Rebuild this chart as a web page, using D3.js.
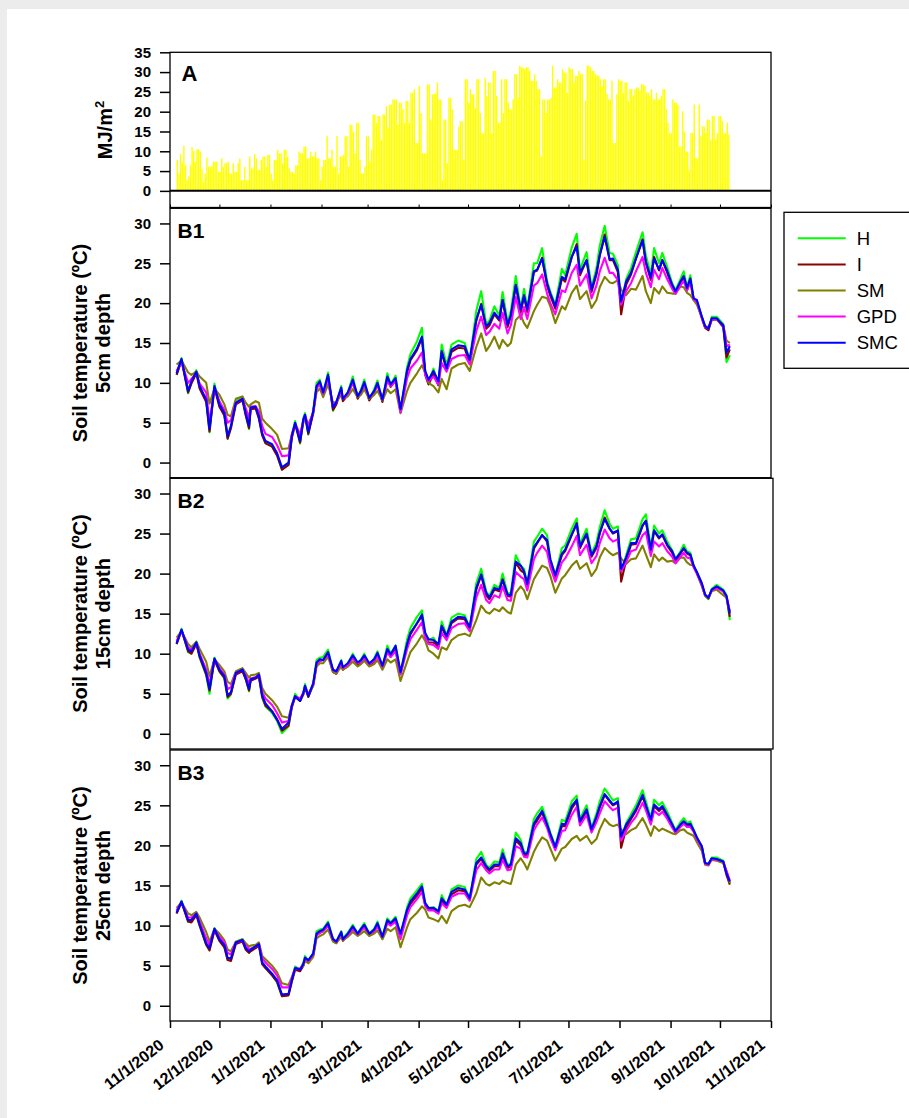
<html>

<head>
    <meta charset="utf-8">
    <title>Solar radiation and soil temperature</title>
    <script src="https://d3js.org/d3.v7.min.js"></script>
    <style>
        body { margin: 0; background: #ececec; }
        svg text { font-family: Arial, "Liberation Sans", sans-serif; fill: #000; }
    </style>
</head>

<body>
    <svg width="909" height="1118"></svg>

    <script>

        // x axis tick labels (first and last also give the axis range)
        const monthTicks = ["11/1/2020", "12/1/2020", "1/1/2021", "2/1/2021", "3/1/2021", "4/1/2021",
            "5/1/2021", "6/1/2021", "7/1/2021", "8/1/2021", "9/1/2021", "10/1/2021", "11/1/2021"];
        const radTicks = [0, 5, 10, 15, 20, 25, 30, 35];
        const tempTicks = [0, 5, 10, 15, 20, 25, 30];

        const treatments = ["H", "I", "SM", "GPD", "SMC"];
        const treatmentColors = ["#00ff00", "#8b0000", "#808000", "#ff00ff", "#0000ff"];

        // daily solar radiation (MJ/m2), first bar on day 4 after 11/1/2020
        const radStartDay = 4;
        const radiation = [
            7.8, 4.4, 9.3, 7.2, 11.4, 6.5, 2.7, 3.7, 6.5, 11.1, 10.1, 7.3, 10.5, 10.5, 9.9, 5.6, 2.3, 4.4, 8.4,
            6.1, 6.1, 6.2, 7.4, 7.4, 7.4, 4.8, 4.8, 8.2, 6.1,
            7.0, 7.0, 7.4, 4.4, 4.4, 7.0, 4.8, 4.8, 7.0, 8.2,
            2.7, 2.7, 6.1, 2.7, 2.7, 8.7, 5.7, 5.7, 9.3, 8.2,
            5.3, 5.3, 7.8, 8.7, 8.7, 6.1, 9.1, 9.1, 4.4, 2.7,
            7.8, 7.8, 10.4, 9.5, 9.5, 7.0, 10.4, 10.4, 8.7, 5.7,
            4.8, 4.8, 4.4, 6.5, 6.5, 9.9, 9.5, 9.5, 11.2, 11.2,
            8.2, 8.2, 9.9, 8.7, 8.7, 9.9, 8.2, 8.2, 2.7, 6.1,
            7.8, 7.8, 13.8, 8.2, 8.2, 10.4, 6.1, 6.1, 13.8, 4.4,
            8.7, 8.7, 9.1, 13.8, 13.8, 6.1, 16.7, 16.7, 15.0, 9.5,
            17.2, 17.2, 7.8, 4.4, 4.4, 6.1, 13.8, 13.8, 7.4, 10.4,
            19.3, 19.3, 17.2, 18.9, 18.9, 12.9, 19.3, 19.3, 21.4, 15.9,
            21.8, 21.8, 23.1, 23.1, 23.1, 16.7, 22.3, 22.3, 20.6, 17.2,
            22.7, 22.7, 17.2, 24.8, 24.8, 25.7, 12.1, 12.1, 26.5, 19.7,
            9.5, 9.5, 9.5, 26.9, 26.9, 18.0, 24.4, 24.4, 24.8, 27.4,
            23.1, 23.1, 2.7, 18.0, 18.0, 7.0, 23.5, 23.5, 20.6, 10.4,
            10.4, 10.4, 16.3, 17.6, 17.6, 7.8, 28.2, 28.2, 22.3, 25.7,
            24.4, 24.4, 21.0, 28.2, 28.2, 19.7, 14.6, 14.6, 28.6, 24.0,
            27.4, 27.4, 14.6, 30.3, 30.3, 24.0, 17.2, 17.2, 28.2, 19.7,
            28.2, 28.2, 22.3, 20.6, 20.6, 23.1, 29.5, 29.5, 23.5, 31.6,
            31.2, 31.2, 30.8, 31.2, 31.2, 30.3, 27.8, 27.8, 29.5, 27.8,
            25.7, 25.7, 8.7, 23.1, 23.1, 19.7, 23.1, 23.1, 23.5, 31.6,
            26.1, 26.1, 28.2, 27.4, 27.4, 30.8, 29.9, 29.9, 24.8, 31.2,
            30.8, 30.8, 27.4, 29.1, 29.1, 30.3, 29.5, 29.5, 7.8, 22.7,
            31.6, 31.6, 31.2, 30.3, 30.3, 29.5, 29.1, 29.1, 28.2, 26.5,
            28.2, 28.2, 24.4, 23.1, 23.1, 27.8, 12.1, 12.1, 24.4, 28.2,
            27.8, 27.8, 24.8, 27.4, 27.4, 22.7, 25.7, 25.7, 24.0, 25.7,
            26.1, 26.1, 25.2, 26.9, 26.9, 26.5, 24.8, 24.8, 24.0, 25.7,
            23.1, 23.1, 24.8, 23.1, 23.1, 24.0, 25.7, 25.7, 20.6, 17.2,
            14.6, 14.6, 23.1, 22.3, 22.3, 21.8, 11.2, 11.2, 20.1, 15.0,
            9.9, 9.9, 5.3, 14.6, 14.6, 21.8, 8.2, 8.2, 21.8, 13.8,
            16.3, 16.3, 14.6, 18.0, 18.0, 12.9, 18.9, 18.9, 12.9, 14.6,
            18.9, 18.9, 17.6, 14.6, 14.6, 17.2, 14.2
        ];

        // soil temperature sampling days (days after 11/1/2020)
        const dayOffsets = [
            4, 7, 11, 13, 16, 18, 22, 24, 27, 30,
            33, 35, 37, 40, 44, 46, 48, 49, 52, 54,
            56, 58, 62, 65, 68, 72, 74, 76, 79, 81,
            82, 84, 87, 89, 91, 93, 96, 99, 101, 104,
            105, 108, 111, 114, 116, 118, 121, 124, 126, 129,
            132, 134, 137, 140, 144, 146, 150, 153, 155, 157,
            160, 163, 165, 168, 171, 175, 179, 182, 186, 189,
            192, 194, 197, 200, 202, 205, 207, 210, 213, 215,
            217, 221, 223, 226, 229, 231, 234, 238, 240, 244,
            247, 249, 253, 256, 259, 261, 264, 267, 269, 272,
            274, 277, 280, 283, 287, 289, 292, 294, 297, 299,
            302, 305, 307, 310, 312, 314, 316, 318, 320, 323,
            325, 327, 329, 332, 336, 338, 340
        ];

        // 5 cm depth
        const b1H = [
            11.0, 13.1, 8.7, 10.1, 11.6, 9.4, 7.8, 3.8, 9.9, 7.1,
            6.0, 3.0, 4.4, 7.7, 8.2, 6.0, 4.2, 7.0, 7.0, 5.6,
            3.5, 2.5, 2.0, 1.0, -0.9, -0.2, 3.5, 5.2, 2.4, 5.6,
            6.2, 3.5, 6.6, 10.0, 10.4, 8.6, 11.3, 6.5, 7.4, 9.6,
            7.8, 8.8, 10.8, 8.1, 9.2, 10.4, 7.9, 9.2, 10.3, 7.7,
            11.2, 9.8, 10.9, 6.4, 12.0, 13.6, 15.2, 16.9, 11.4, 10.0,
            11.8, 9.8, 14.8, 12.2, 14.8, 15.3, 15.0, 12.8, 19.0, 21.5,
            17.4, 17.8, 19.6, 18.4, 21.4, 17.6, 19.0, 23.4, 19.3, 21.8,
            19.4, 25.0, 25.0, 26.9, 22.8, 21.4, 19.8, 24.3, 23.5, 27.0,
            28.7, 24.2, 26.4, 22.0, 24.4, 27.2, 29.7, 26.3, 26.2, 24.8,
            19.8, 23.0, 24.4, 26.4, 28.9, 26.0, 23.6, 26.9, 25.0, 26.3,
            24.5, 22.5, 21.6, 23.0, 24.0, 22.0, 23.5, 20.5, 20.2, 18.3,
            17.0, 16.6, 18.3, 18.3, 17.4, 12.6, 13.5
        ];
        const b1I = [
            11.0, 12.8, 8.8, 9.9, 11.2, 9.3, 7.6, 3.9, 9.4, 7.0,
            5.9, 3.0, 4.3, 7.3, 7.8, 5.9, 4.3, 6.7, 6.8, 5.5,
            3.4, 2.4, 2.0, 0.9, -0.9, -0.3, 3.1, 4.8, 2.5, 5.2,
            5.8, 3.6, 6.2, 9.4, 10.0, 8.5, 10.8, 6.6, 7.3, 9.1,
            7.7, 8.5, 10.1, 8.0, 8.8, 9.8, 7.8, 8.8, 9.8, 7.6,
            10.6, 9.5, 10.3, 6.4, 11.3, 12.8, 14.1, 15.6, 11.0, 9.8,
            11.1, 9.7, 13.8, 11.6, 13.9, 14.4, 14.3, 12.5, 17.8, 19.9,
            16.8, 17.2, 18.6, 17.8, 20.4, 17.0, 18.3, 22.2, 18.8, 20.8,
            18.9, 23.9, 24.1, 25.7, 22.2, 20.9, 19.3, 23.1, 22.7, 25.8,
            27.4, 23.5, 25.4, 21.4, 23.6, 26.0, 28.6, 25.4, 25.4, 23.9,
            18.6, 22.3, 23.6, 25.6, 28.0, 25.0, 22.9, 25.8, 24.1, 25.4,
            23.8, 22.0, 21.2, 22.6, 23.3, 21.6, 23.0, 20.4, 20.1, 18.1,
            16.9, 16.6, 17.9, 18.0, 17.0, 13.2, 14.2
        ];
        const b1SM = [
            12.3, 12.8, 11.3, 11.0, 11.4, 10.8, 10.0, 7.4, 9.3, 8.5,
            7.3, 6.0, 5.8, 8.0, 8.3, 7.5, 7.0, 7.3, 7.7, 7.5,
            5.5, 5.0, 4.2, 3.5, 1.7, 1.8, 3.5, 4.8, 3.6, 5.0,
            5.8, 4.8, 6.2, 8.8, 9.3, 8.2, 9.8, 7.5, 7.6, 8.5,
            8.0, 8.3, 9.2, 8.2, 8.5, 9.2, 8.0, 8.5, 9.0, 7.8,
            9.2, 8.7, 9.2, 6.2, 9.0, 10.0, 11.2, 12.2, 11.3, 10.0,
            9.6, 8.8, 10.5, 9.2, 11.8, 12.3, 12.5, 11.5, 14.5, 16.2,
            14.0, 14.6, 15.8, 14.3, 15.4, 14.6, 15.0, 17.9, 18.5, 17.5,
            16.9, 19.0, 19.8, 20.8, 20.6, 19.6, 17.5, 19.6, 19.2, 21.3,
            22.2, 20.5, 21.5, 19.4, 20.4, 22.0, 23.3, 22.6, 22.5, 22.9,
            21.7, 21.0, 21.8, 21.7, 23.4, 21.5, 20.0, 21.9, 21.2, 22.1,
            21.3, 21.2, 21.2, 22.1, 22.0, 21.3, 21.0, 20.4, 19.8, 18.2,
            17.1, 17.0, 18.0, 17.9, 17.3, 15.3, 15.0
        ];
        const b1GPD = [
            11.5, 12.6, 10.0, 10.5, 11.2, 9.9, 8.8, 5.0, 9.3, 7.7,
            6.6, 5.0, 5.3, 7.5, 8.0, 6.8, 5.6, 7.0, 7.1, 6.4,
            4.6, 3.6, 3.2, 2.2, 0.8, 0.9, 3.5, 4.9, 3.4, 5.4,
            6.0, 4.5, 6.4, 9.3, 9.8, 8.6, 10.6, 7.0, 7.6, 9.1,
            8.0, 8.6, 10.0, 8.4, 8.9, 9.8, 8.2, 8.9, 9.7, 8.0,
            10.2, 9.6, 10.2, 6.3, 10.6, 11.8, 12.8, 13.8, 11.0, 10.2,
            10.8, 9.8, 12.5, 11.4, 13.0, 13.4, 13.5, 12.3, 16.5, 18.3,
            16.0, 16.4, 17.4, 16.8, 18.8, 16.2, 17.2, 20.8, 18.0, 19.5,
            18.0, 22.2, 22.5, 23.6, 21.2, 20.0, 18.6, 21.6, 21.4, 23.8,
            24.8, 22.2, 23.6, 20.6, 22.2, 24.0, 25.7, 23.8, 23.8, 22.9,
            19.8, 21.5, 22.5, 24.0, 25.8, 23.8, 22.0, 24.2, 23.0, 24.4,
            23.0, 21.8, 21.2, 22.2, 22.8, 21.6, 22.6, 20.5, 20.2, 18.2,
            17.0, 16.8, 18.0, 18.0, 17.2, 14.6, 14.8
        ];
        const b1SMC = [
            11.2, 13.0, 9.0, 10.2, 11.4, 9.6, 7.9, 4.2, 9.6, 7.3,
            6.2, 3.3, 4.6, 7.5, 8.0, 6.2, 4.6, 6.9, 7.0, 5.8,
            3.7, 2.7, 2.3, 1.2, -0.6, 0.0, 3.3, 5.0, 2.7, 5.4,
            6.0, 3.8, 6.4, 9.6, 10.2, 8.8, 11.0, 6.9, 7.6, 9.4,
            8.0, 8.8, 10.4, 8.3, 9.0, 10.1, 8.1, 9.0, 10.0, 7.9,
            10.8, 9.8, 10.6, 6.7, 11.6, 13.0, 14.3, 15.8, 11.5, 10.4,
            11.5, 10.2, 14.0, 11.8, 14.2, 14.7, 14.6, 12.9, 17.9, 19.8,
            17.1, 17.5, 18.8, 18.0, 20.4, 17.3, 18.5, 22.3, 19.2, 21.0,
            19.2, 24.0, 24.2, 25.6, 22.5, 21.2, 19.6, 23.3, 23.0, 25.8,
            27.1, 23.8, 25.4, 21.7, 23.8, 26.0, 28.3, 25.5, 25.6, 24.2,
            20.2, 22.7, 23.8, 25.6, 27.9, 25.2, 23.2, 25.6, 24.2, 25.4,
            24.0, 22.3, 21.5, 22.7, 23.4, 21.9, 23.1, 20.6, 20.4, 18.3,
            17.1, 16.8, 18.1, 18.1, 17.2, 13.8, 14.6
        ];

        // 15 cm depth
        const b2H = [
            11.2, 13.1, 10.2, 10.0, 11.5, 9.5, 7.3, 5.0, 9.5, 7.8,
            6.9, 4.4, 4.9, 7.7, 8.1, 6.8, 5.3, 6.9, 7.0, 7.2,
            4.5, 3.4, 2.6, 1.6, 0.1, 0.9, 3.5, 5.0, 4.1, 5.2,
            6.2, 4.6, 6.4, 9.2, 9.5, 9.6, 10.5, 7.8, 7.6, 9.2,
            8.2, 8.8, 10.0, 8.8, 9.3, 10.0, 8.6, 9.4, 10.3, 8.3,
            11.0, 10.0, 11.0, 7.6, 11.8, 13.2, 14.6, 15.4, 12.5, 11.7,
            12.0, 11.0, 14.0, 12.3, 14.5, 15.0, 14.8, 13.2, 18.8, 20.6,
            17.8, 17.2, 18.6, 18.2, 20.0, 17.5, 17.6, 22.3, 21.0, 20.6,
            18.8, 24.0, 24.6, 25.6, 24.8, 21.8, 19.8, 23.2, 23.5, 25.6,
            26.9, 23.7, 25.6, 22.5, 23.9, 25.8, 27.9, 26.2, 25.6, 25.9,
            20.2, 22.3, 24.3, 24.4, 26.8, 27.4, 23.3, 26.0, 25.0, 25.4,
            24.0, 22.9, 21.8, 22.8, 23.6, 22.8, 22.6, 21.0, 20.1, 18.6,
            17.2, 16.8, 18.1, 18.6, 18.0, 17.3, 14.2
        ];
        const b2I = [
            11.2, 12.9, 10.3, 10.0, 11.2, 9.6, 7.4, 5.4, 9.2, 7.8,
            7.0, 4.6, 5.0, 7.4, 7.8, 6.8, 5.4, 6.6, 6.9, 7.1,
            4.6, 3.5, 2.8, 1.8, 0.4, 1.0, 3.3, 4.6, 4.1, 4.9,
            5.8, 4.6, 6.1, 8.6, 9.1, 9.2, 10.0, 7.7, 7.5, 8.8,
            8.0, 8.5, 9.5, 8.6, 8.9, 9.5, 8.5, 9.0, 9.8, 8.2,
            10.4, 9.6, 10.5, 7.5, 11.1, 12.4, 13.8, 14.7, 12.0, 11.4,
            11.4, 10.9, 13.3, 12.0, 13.8, 14.4, 14.3, 13.0, 18.0, 19.8,
            17.3, 16.8, 18.0, 17.8, 19.3, 17.2, 17.1, 21.4, 20.4, 20.1,
            18.5, 23.1, 23.8, 24.8, 24.0, 21.4, 19.6, 22.3, 22.8, 24.8,
            26.3, 23.2, 24.9, 22.1, 23.2, 25.0, 27.0, 25.6, 25.0, 25.3,
            19.0, 21.6, 23.6, 23.7, 26.0, 26.6, 22.7, 25.3, 24.4, 24.8,
            23.5, 22.6, 21.5, 22.5, 23.1, 22.5, 22.3, 20.9, 20.1, 18.7,
            17.3, 16.9, 17.9, 18.3, 17.8, 17.0, 14.6
        ];
        const b2SM = [
            12.0, 12.8, 11.2, 10.8, 11.5, 10.6, 9.0, 7.2, 9.3, 8.6,
            7.8, 6.5, 6.2, 7.8, 8.2, 7.6, 7.0, 7.3, 7.4, 7.6,
            5.7, 5.0, 4.2, 3.4, 2.2, 2.0, 3.6, 4.6, 4.4, 5.0,
            5.8, 4.9, 6.0, 8.4, 8.8, 8.8, 9.6, 7.7, 7.5, 8.4,
            8.0, 8.4, 9.0, 8.4, 8.7, 9.1, 8.4, 8.7, 9.2, 8.0,
            9.3, 8.9, 9.3, 6.6, 9.0, 10.2, 11.3, 12.3, 11.6, 10.4,
            10.0, 9.4, 10.8, 10.5, 11.7, 12.3, 12.5, 12.2, 14.2, 16.0,
            15.2, 15.0, 15.6, 15.3, 15.8, 15.2, 15.0, 17.6, 18.4, 17.9,
            16.8, 19.3, 20.0, 21.0, 20.7, 19.7, 17.6, 19.4, 19.8, 21.0,
            21.6, 20.6, 21.3, 19.7, 20.6, 22.0, 23.2, 22.6, 22.3, 22.6,
            21.9, 21.2, 21.8, 21.9, 23.5, 22.4, 20.8, 22.4, 21.6, 22.0,
            21.5, 21.6, 21.3, 22.0, 22.0, 21.4, 21.1, 21.0, 20.0, 18.4,
            17.2, 17.0, 17.8, 18.0, 17.3, 17.0, 15.2
        ];
        const b2GPD = [
            11.6, 12.8, 10.8, 10.5, 11.3, 10.0, 8.0, 6.2, 9.3, 8.2,
            7.4, 5.6, 5.8, 7.6, 8.0, 7.3, 6.3, 6.9, 7.1, 7.3,
            5.2, 4.4, 3.6, 2.6, 1.4, 1.6, 3.5, 4.7, 4.4, 5.1,
            5.9, 4.9, 6.2, 8.7, 9.1, 9.2, 9.9, 8.0, 7.7, 8.9,
            8.2, 8.6, 9.5, 8.8, 9.0, 9.5, 8.7, 9.1, 9.7, 8.4,
            10.2, 9.6, 10.3, 7.4, 10.6, 11.8, 13.0, 13.9, 12.0, 11.2,
            11.1, 10.6, 12.6, 11.7, 13.2, 13.7, 13.8, 12.8, 17.0, 18.6,
            16.7, 16.3, 17.3, 17.0, 18.4, 16.7, 16.6, 20.2, 19.6, 19.3,
            17.9, 21.8, 22.6, 23.5, 22.7, 20.8, 19.0, 21.4, 21.9, 23.4,
            24.7, 22.3, 23.6, 21.3, 22.2, 23.8, 25.5, 24.4, 24.0, 24.3,
            20.3, 21.4, 22.8, 23.0, 24.8, 25.2, 22.2, 24.0, 23.4, 23.8,
            22.8, 22.1, 21.3, 22.1, 22.6, 22.0, 21.9, 20.8, 20.0, 18.6,
            17.3, 17.0, 17.9, 18.2, 17.8, 17.1, 15.3
        ];
        const b2SMC = [
            11.3, 13.0, 10.5, 10.3, 11.4, 9.8, 7.6, 5.6, 9.4, 8.0,
            7.2, 4.8, 5.2, 7.6, 8.0, 7.0, 5.6, 6.8, 7.0, 7.4,
            4.8, 3.8, 2.8, 1.8, 0.6, 1.4, 3.5, 4.7, 4.1, 5.1,
            6.0, 4.7, 6.3, 8.9, 9.3, 9.2, 10.2, 8.0, 7.8, 9.1,
            8.3, 8.8, 9.8, 8.9, 9.2, 9.8, 8.8, 9.3, 10.1, 8.5,
            10.6, 9.9, 11.0, 7.7, 11.2, 12.6, 13.8, 14.9, 12.6, 11.8,
            11.7, 11.2, 13.5, 12.2, 14.0, 14.6, 14.5, 13.3, 18.2, 19.9,
            17.6, 17.0, 18.2, 18.0, 19.2, 17.4, 17.3, 21.5, 21.0, 20.3,
            18.7, 23.3, 23.9, 24.8, 24.2, 21.8, 19.8, 22.5, 23.0, 24.9,
            26.2, 23.4, 25.0, 22.3, 23.4, 25.1, 26.8, 25.6, 25.1, 25.4,
            20.6, 22.0, 23.8, 23.8, 26.0, 26.6, 23.0, 25.4, 24.5, 24.9,
            23.6, 22.8, 21.8, 22.6, 23.2, 22.6, 22.4, 21.0, 20.2, 18.8,
            17.4, 17.0, 18.0, 18.4, 17.9, 17.2, 15.0
        ];

        // 25 cm depth
        const b3H = [
            11.6, 13.1, 10.5, 10.5, 11.6, 10.0, 7.6, 7.0, 9.7, 8.2,
            7.4, 5.7, 5.7, 8.0, 8.3, 7.1, 6.6, 7.1, 7.4, 7.7,
            5.2, 4.7, 3.8, 2.9, 1.2, 1.4, 3.3, 4.9, 4.5, 5.4,
            6.2, 5.6, 6.6, 9.3, 9.5, 9.6, 10.5, 8.3, 8.0, 9.3,
            8.4, 9.1, 10.1, 9.0, 9.7, 10.3, 9.0, 9.6, 10.5, 8.6,
            10.9, 10.4, 11.1, 8.8, 12.3, 13.4, 14.4, 15.2, 12.8, 12.2,
            12.3, 11.8, 13.8, 12.6, 14.5, 15.0, 14.8, 13.4, 18.3, 19.2,
            17.6, 17.2, 18.0, 17.9, 19.5, 17.5, 17.8, 21.6, 20.7, 19.2,
            19.1, 23.3, 24.0, 24.8, 23.0, 21.6, 19.9, 23.2, 23.0, 25.5,
            26.2, 23.3, 25.0, 22.2, 24.0, 25.5, 27.1, 26.2, 25.6, 25.9,
            20.8, 22.8, 23.9, 25.0, 26.9, 25.5, 23.4, 25.7, 25.0, 25.4,
            24.2, 22.8, 21.9, 22.9, 23.4, 22.8, 23.0, 22.0, 21.0, 19.9,
            17.8, 17.6, 18.5, 18.5, 18.1, 16.6, 15.3
        ];
        const b3I = [
            11.5, 12.9, 10.5, 10.4, 11.3, 10.0, 7.6, 6.9, 9.4, 8.1,
            7.3, 5.7, 5.6, 7.7, 8.0, 7.0, 6.6, 6.8, 7.2, 7.5,
            5.2, 4.7, 3.8, 3.0, 1.2, 1.3, 3.0, 4.5, 4.3, 5.0,
            5.8, 5.5, 6.3, 8.8, 9.1, 9.3, 10.0, 8.1, 7.8, 9.0,
            8.1, 8.8, 9.6, 8.8, 9.4, 9.8, 8.8, 9.3, 10.0, 8.4,
            10.5, 10.1, 10.6, 8.8, 11.7, 12.7, 13.7, 14.6, 12.5, 12.0,
            12.0, 11.6, 13.1, 12.4, 13.9, 14.4, 14.3, 13.2, 17.6, 18.3,
            17.2, 16.8, 17.4, 17.4, 18.7, 17.2, 17.3, 20.6, 20.0, 18.8,
            18.8, 22.5, 23.1, 24.1, 22.5, 21.2, 19.6, 22.4, 22.4, 24.6,
            25.5, 22.8, 24.3, 21.8, 23.4, 24.7, 26.3, 25.5, 25.0, 25.3,
            19.7, 22.1, 23.3, 24.3, 26.1, 24.9, 22.8, 24.9, 24.3, 24.7,
            23.6, 22.4, 21.6, 22.4, 22.8, 22.4, 22.5, 21.8, 20.9, 19.8,
            17.7, 17.6, 18.3, 18.2, 17.9, 16.3, 15.1
        ];
        const b3SM = [
            12.2, 12.9, 11.5, 11.3, 11.7, 11.0, 9.2, 8.0, 9.6, 9.0,
            8.2, 7.0, 6.8, 8.0, 8.3, 7.8, 7.4, 7.5, 7.6, 7.9,
            6.2, 5.8, 5.0, 4.2, 2.8, 2.6, 3.6, 4.6, 4.6, 5.0,
            5.6, 5.3, 6.1, 8.4, 8.7, 8.9, 9.5, 8.0, 7.8, 8.6,
            8.2, 8.6, 9.2, 8.7, 9.0, 9.3, 8.7, 9.0, 9.4, 8.3,
            9.6, 9.3, 9.8, 7.3, 9.8, 10.8, 11.6, 12.4, 12.0, 11.0,
            10.8, 10.5, 11.2, 10.3, 11.8, 12.4, 12.6, 12.3, 14.0, 16.0,
            15.2, 15.0, 15.4, 15.2, 15.6, 15.3, 15.2, 17.6, 18.4, 17.8,
            17.0, 19.2, 20.0, 21.0, 20.6, 19.6, 18.1, 19.6, 19.8, 20.8,
            21.2, 20.6, 21.2, 20.2, 20.8, 22.0, 23.3, 22.6, 22.4, 22.6,
            22.0, 21.4, 21.9, 22.2, 23.4, 22.6, 21.2, 22.4, 21.8, 22.1,
            21.8, 21.5, 21.4, 21.9, 22.0, 21.6, 21.4, 21.2, 20.4, 19.3,
            17.6, 17.5, 18.2, 18.1, 17.8, 16.8, 15.3
        ];
        const b3GPD = [
            11.9, 12.9, 11.0, 11.0, 11.5, 10.5, 8.4, 7.6, 9.5, 8.6,
            7.9, 6.6, 6.4, 7.9, 8.1, 7.5, 7.1, 7.1, 7.4, 7.7,
            5.9, 5.4, 4.6, 3.8, 2.3, 2.3, 3.4, 4.7, 4.6, 5.2,
            5.9, 5.6, 6.4, 8.8, 9.1, 9.3, 10.0, 8.3, 8.0, 9.0,
            8.3, 8.8, 9.6, 8.9, 9.4, 9.8, 9.0, 9.3, 9.9, 8.6,
            10.3, 10.0, 10.5, 8.3, 11.3, 12.3, 13.3, 14.2, 12.5, 11.9,
            11.9, 11.5, 12.8, 12.2, 13.6, 14.0, 14.0, 13.1, 16.9, 17.8,
            16.9, 16.5, 17.0, 17.0, 18.2, 16.9, 17.0, 19.9, 19.6, 18.6,
            18.5, 21.9, 22.6, 23.5, 22.2, 20.9, 19.4, 21.8, 21.9, 23.8,
            24.8, 22.5, 23.8, 21.6, 22.9, 24.0, 25.5, 24.8, 24.4, 24.7,
            20.6, 21.8, 22.8, 23.6, 25.3, 24.4, 22.6, 24.3, 23.8, 24.2,
            23.3, 22.2, 21.6, 22.3, 22.7, 22.3, 22.3, 21.7, 20.8, 19.7,
            17.7, 17.6, 18.3, 18.2, 18.0, 16.8, 15.6
        ];
        const b3SMC = [
            11.6, 13.0, 10.7, 10.7, 11.5, 10.2, 7.8, 7.2, 9.6, 8.3,
            7.6, 6.0, 5.9, 7.9, 8.2, 7.2, 6.8, 7.0, 7.4, 7.7,
            5.4, 4.9, 4.0, 3.2, 1.4, 1.5, 3.2, 4.7, 4.5, 5.2,
            6.0, 5.7, 6.5, 9.0, 9.3, 9.5, 10.3, 8.3, 8.0, 9.2,
            8.3, 9.0, 9.9, 9.0, 9.6, 10.1, 9.0, 9.5, 10.3, 8.6,
            10.7, 10.3, 10.9, 9.0, 12.0, 13.0, 14.0, 14.9, 12.8, 12.2,
            12.2, 11.8, 13.4, 12.6, 14.2, 14.7, 14.5, 13.4, 17.8, 18.5,
            17.4, 17.0, 17.6, 17.6, 19.0, 17.4, 17.6, 20.9, 20.3, 19.0,
            19.0, 22.7, 23.4, 24.3, 22.6, 21.4, 19.8, 22.7, 22.6, 24.9,
            25.7, 23.0, 24.5, 22.0, 23.6, 24.9, 26.4, 25.6, 25.1, 25.5,
            21.1, 22.6, 23.5, 24.5, 26.3, 25.0, 23.2, 25.1, 24.5, 24.9,
            23.8, 22.6, 21.8, 22.6, 23.0, 22.6, 22.7, 21.9, 21.0, 19.9,
            17.8, 17.7, 18.4, 18.3, 18.0, 16.5, 15.5
        ];

        const svg = d3.select('svg');
        const boldFont = 'bold 15px Arial, "Liberation Sans", sans-serif';

        // white page
        svg.append('rect')
            .attr('x', 7).attr('y', 9)
            .attr('width', 902).attr('height', 1109)
            .attr('fill', '#fff');

        const parseDate = d3.utcParse('%m/%d/%Y');
        const months = monthTicks.map(parseDate);
        const startDate = months[0];
        const dayDate = d => d3.utcDay.offset(startDate, d);

        const x = d3.scaleUtc()
            .domain([startDate, months[months.length - 1]])
            .range([170, 771]);

        // ---- panel A : solar radiation ----
        const yA = d3.scaleLinear().domain([-4.2, 35]).range([207.5, 52.3]);

        svg.append('g').selectAll('rect')
            .data(radiation)
            .join('rect')
            .attr('x', (v, i) => x(dayDate(radStartDay + i)))
            .attr('width', (v, i) => x(dayDate(radStartDay + i + 1)) - x(dayDate(radStartDay + i)) - 0.25)
            .attr('y', v => yA(v))
            .attr('height', v => yA(0) - yA(v))
            .attr('fill', '#ffff00');

        svg.append('line')
            .attr('x1', 170).attr('x2', 771)
            .attr('y1', yA(0)).attr('y2', yA(0))
            .attr('stroke', '#000').attr('stroke-width', 2);

        svg.append('rect')
            .attr('x', 170).attr('y', 52.3)
            .attr('width', 601).attr('height', 207.5 - 52.3)
            .attr('fill', 'none').attr('stroke', '#000').attr('stroke-width', 1.3);

        const axA = svg.append('g')
            .attr('transform', 'translate(170,0)')
            .call(d3.axisLeft(yA).tickValues(radTicks).tickSize(10).tickPadding(9));
        axA.select('.domain').remove();
        axA.selectAll('line').attr('stroke-width', 1.5);
        axA.selectAll('text').style('font', boldFont);

        const axAbottom = svg.append('g')
            .attr('transform', 'translate(0,207.5)')
            .call(d3.axisTop(x).tickValues(months).tickSize(3).tickFormat(''));
        axAbottom.select('.domain').remove();

        svg.append('text')
            .attr('x', 181.5).attr('y', 81)
            .style('font', 'bold 22px Arial, "Liberation Sans", sans-serif')
            .text('A');

        const titleA = svg.append('text')
            .attr('transform', 'translate(112.3,130) rotate(-90)')
            .attr('text-anchor', 'middle')
            .style('font', 'bold 20px Arial, "Liberation Sans", sans-serif');
        titleA.append('tspan').text('MJ/m');
        titleA.append('tspan').attr('dy', -8).attr('font-size', 13).text('2');

        // ---- panels B1-B3 : soil temperature ----
        const tempPanels = [
            { label: 'B1', depth: '5cm depth', top: 208.3, bottom: 477.7, right: 771, series: [b1H, b1I, b1SM, b1GPD, b1SMC] },
            { label: 'B2', depth: '15cm depth', top: 478.3, bottom: 749, right: 773, series: [b2H, b2I, b2SM, b2GPD, b2SMC] },
            { label: 'B3', depth: '25cm depth', top: 750, bottom: 1021, right: 771, series: [b3H, b3I, b3SM, b3GPD, b3SMC] }
        ];

        tempPanels.forEach(p => {
            const y = d3.scaleLinear().domain([-1.9, 31.9]).range([p.bottom, p.top]);
            const g = svg.append('g');

            const line = d3.line()
                .x((v, i) => x(dayDate(dayOffsets[i])))
                .y(v => y(v));

            p.series.forEach((vals, k) => {
                g.append('path')
                    .datum(vals)
                    .attr('fill', 'none')
                    .attr('stroke', treatmentColors[k])
                    .attr('stroke-width', 2.1)
                    .attr('stroke-linejoin', 'round')
                    .attr('d', line);
            });

            g.append('rect')
                .attr('x', 170).attr('y', p.top)
                .attr('width', p.right - 170).attr('height', p.bottom - p.top)
                .attr('fill', 'none').attr('stroke', '#000').attr('stroke-width', 1.3);

            const ay = g.append('g')
                .attr('transform', 'translate(170,0)')
                .call(d3.axisLeft(y).tickValues(tempTicks).tickSize(10).tickPadding(9));
            ay.select('.domain').remove();
            ay.selectAll('line').attr('stroke-width', 1.5);
            ay.selectAll('text').style('font', boldFont);

            g.append('text')
                .attr('x', 177.5).attr('y', p.top + 29.5)
                .style('font', 'bold 21px Arial, "Liberation Sans", sans-serif')
                .text(p.label);

            const cy = (p.top + p.bottom) / 2;
            g.append('text')
                .attr('transform', `translate(86.5,${cy}) rotate(-90)`)
                .attr('text-anchor', 'middle')
                .style('font', 'bold 20px Arial, "Liberation Sans", sans-serif')
                .text('Soil temperature (ºC)');
            g.append('text')
                .attr('transform', `translate(109.5,${cy}) rotate(-90)`)
                .attr('text-anchor', 'middle')
                .style('font', 'bold 20px Arial, "Liberation Sans", sans-serif')
                .text(p.depth);
        });

        // x axis under B3
        const ax = svg.append('g')
            .attr('transform', 'translate(0,1021)')
            .call(d3.axisBottom(x).tickValues(months).tickSize(7).tickFormat(''));
        ax.select('.domain').remove();
        ax.selectAll('line').attr('stroke-width', 1.5);

        svg.append('g').selectAll('text')
            .data(monthTicks)
            .join('text')
            .attr('transform', d => `translate(${x(parseDate(d)) - 5},1047) rotate(-38)`)
            .attr('text-anchor', 'end')
            .style('font', 'bold 16px Arial, "Liberation Sans", sans-serif')
            .text(d => d);

        // legend
        const legendG = svg.append('g').attr('transform', 'translate(784,212.3)');
        legendG.append('rect')
            .attr('width', 140).attr('height', 156)
            .attr('fill', '#fff').attr('stroke', '#000').attr('stroke-width', 1.3);
        treatments.forEach((name, k) => {
            const ly = 26 + k * 26.1;
            legendG.append('line')
                .attr('x1', 13.7).attr('x2', 61.7)
                .attr('y1', ly).attr('y2', ly)
                .attr('stroke', treatmentColors[k]).attr('stroke-width', 2);
            legendG.append('text')
                .attr('x', 72.7).attr('y', ly + 6.7)
                .style('font', '18.5px Arial, "Liberation Sans", sans-serif')
                .text(name);
        });

    </script>
</body>

</html>
